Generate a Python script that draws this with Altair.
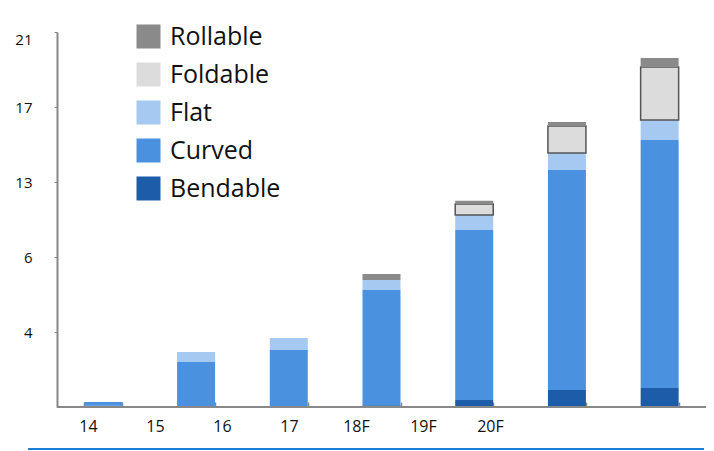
import altair as alt
import pandas as pd

years = ["14", "15", "16", "17", "18F", "19F", "20F"]
bendable = [0.07, 0.0, 0.0, 0.10, 0.37, 0.91, 1.01]
curved = [0.20, 2.40, 3.04, 5.02, 8.15, 12.73, 14.23]
flat = [0.0, 0.53, 0.64, 0.27, 1.40, 0.91, 1.07]
foldable = [0.0, 0.0, 0.0, 0.0, 1.03, 1.44, 2.82]
rollable = [0.0, 0.0, 0.0, 0.16, 0.30, 0.21, 0.48]

legend_types = ["Rollable", "Foldable", "Flat", "Curved", "Bendable"]
legend_colors = ["#8a8a8a", "#dcdcdc", "#a6c9f1", "#4a92df", "#1c5ca8"]
stack_types = ["Bendable", "Curved", "Flat", "Foldable", "Rollable"]
y_ticks = [4, 6, 13, 17, 21]
y_domain = [0, 4, 6, 13, 17, 21]

series = {"Bendable": bendable, "Curved": curved, "Flat": flat,
          "Foldable": foldable, "Rollable": rollable}
rows = []
for i, t in enumerate(stack_types):
    for yr, v in zip(years, series[t]):
        if v > 0:
            rows.append({"year": yr, "type": t, "value": v, "order": i})
df = pd.DataFrame(rows)

W, H = 649, 375
y_range = [H - H * k / 5 for k in range(6)]

bars = alt.Chart(df).mark_bar(stroke="#555555").encode(
    x=alt.X("year:N", sort=years,
            scale=alt.Scale(paddingInner=0.59, paddingOuter=0.295),
            axis=alt.Axis(labels=False, title=None, tickBand="extent",
                          domain=False, offset=-5,
                          tickColor="#888888", tickSize=5, tickWidth=1.5)),
    y=alt.Y("value:Q", stack="zero",
            scale=alt.Scale(domain=y_domain, range=y_range, nice=False),
            axis=alt.Axis(values=y_ticks, title=None, grid=False,
                          domainColor="#888888", domainWidth=2,
                          tickColor="#888888", tickSize=3, labelPadding=22,
                          labelFontSize=15, labelFont="Open Sans",
                          labelColor="#111111", labelFlush=True)),
    color=alt.Color("type:N",
                    scale=alt.Scale(domain=legend_types, range=legend_colors),
                    legend=alt.Legend(orient="none", legendX=79, legendY=-8,
                                      title=None, symbolType="square",
                                      symbolSize=576, symbolStrokeWidth=0,
                                      labelFontSize=25, labelFont="Open Sans",
                                      labelColor="#111111", rowPadding=12,
                                      labelOffset=9, padding=0,
                                      labelBaseline="middle")),
    order=alt.Order("order:Q"),
    strokeWidth=alt.condition("datum.type == 'Foldable'", alt.value(1.5), alt.value(0)),
)

labels_df = pd.DataFrame({"year": years})
labels = alt.Chart(labels_df).mark_point(opacity=0).encode(
    x=alt.X("year:N", sort=years,
            scale=alt.Scale(type="point", range=[31, 433], padding=0),
            axis=alt.Axis(orient="bottom", domain=False, ticks=False,
                          labelPadding=11, labelFontSize=16,
                          labelFont="Open Sans", labelColor="#111111",
                          title=None, labelAngle=0))
)

baseline = alt.Chart(pd.DataFrame({"a": [0]})).mark_rule(
    color="#888888", strokeWidth=2
).encode(x=alt.value(0), x2=alt.value(W), y=alt.value(H))

rule = alt.Chart(pd.DataFrame({"a": [0]})).mark_rule(
    color="#1a7fd8", strokeWidth=2
).encode(x=alt.value(-29), x2=alt.value(647), y=alt.value(417))

chart = alt.layer(bars, labels, baseline, rule).resolve_scale(x="independent").properties(
    width=W, height=H,
    padding={"left": 57, "top": 32, "right": 8, "bottom": 44},
    autosize="none",
).configure_view(stroke=None)

chart.save("out.html", embed_options={"renderer": "svg", "actions": False})
